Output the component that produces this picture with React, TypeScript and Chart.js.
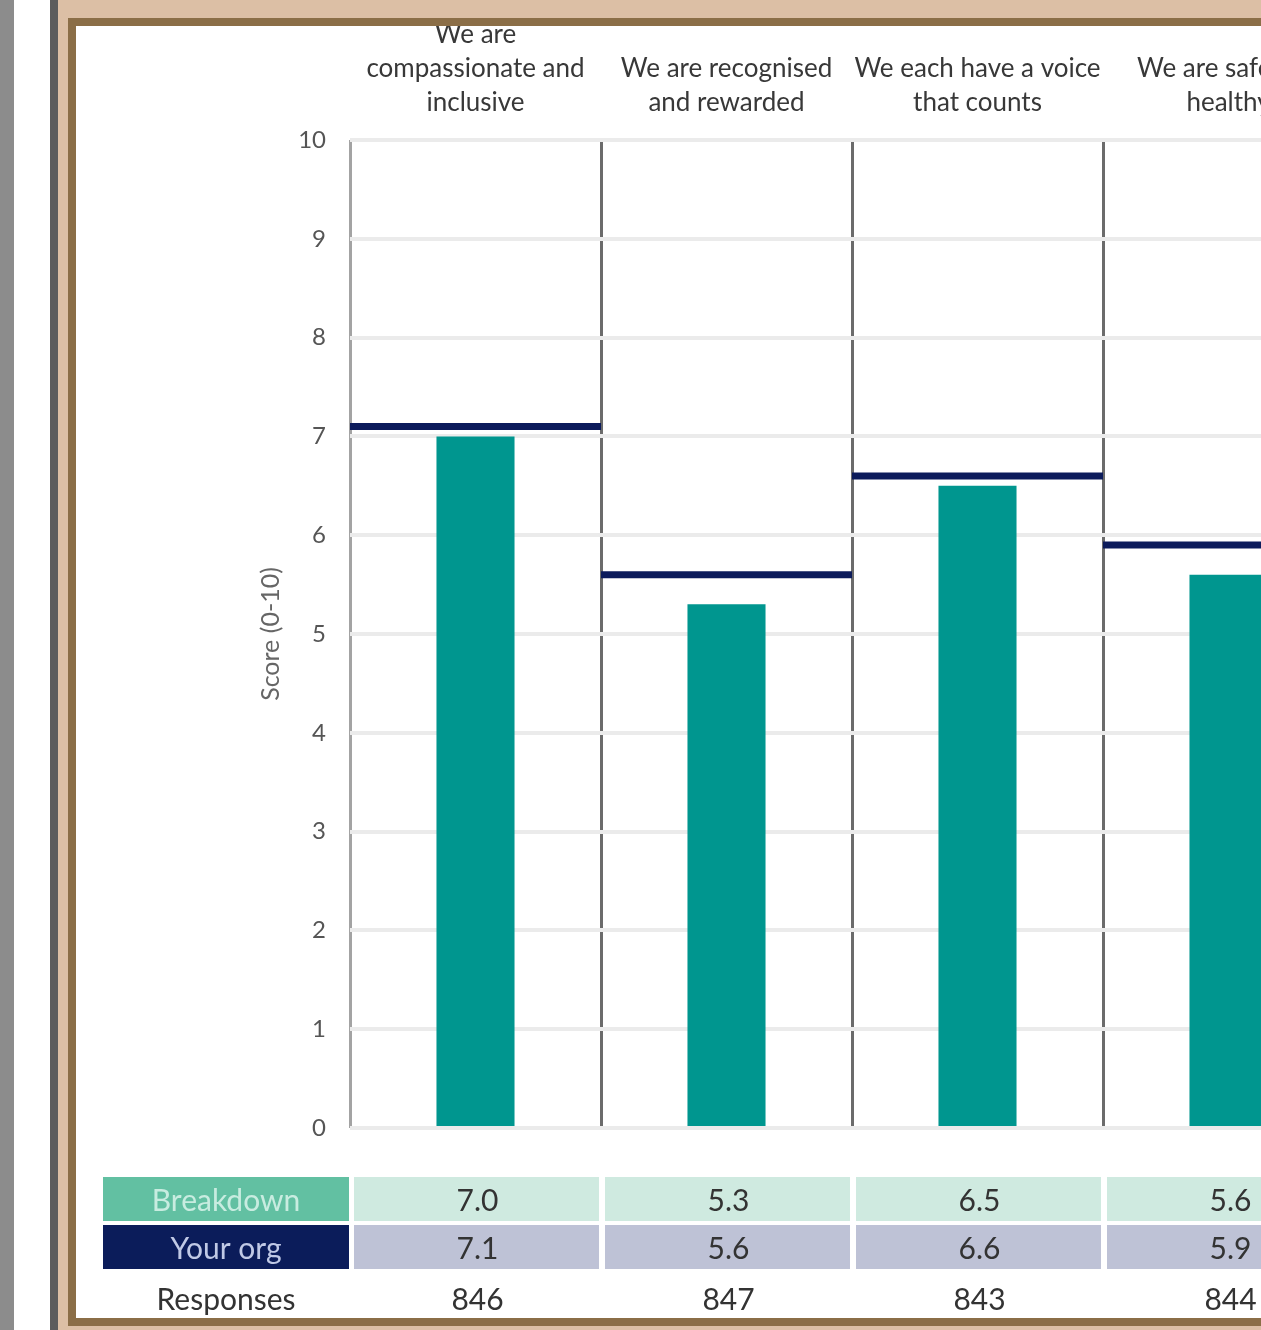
import React, { useEffect, useRef } from "react";
import { Chart, registerables } from "chart.js";

Chart.register(...registerables);

// ---------- data ----------
const categories: string[][] = [
  ["We are", "compassionate and", "inclusive"],
  ["We are recognised", "and rewarded"],
  ["We each have a voice", "that counts"],
  ["We are safe and", "healthy"],
];
const breakdownScores = [7.0, 5.3, 6.5, 5.6];
const yourOrgScores = [7.1, 5.6, 6.6, 5.9];
const responseCounts = [846, 847, 843, 844];
const rowLabels = ["Breakdown", "Your org", "Responses"];
const yAxisTitle = "Score (0-10)";
const yMin = 0;
const yMax = 10;
const yStep = 1;

// ---------- styles ----------
const FONT = "Lato, 'Noto Sans', sans-serif";
const TEAL = "#00968f";
const NAVY = "#0c1b5b";

const tablePlugin = {
  id: "scoreTable",
  afterDraw(chart: any) {
    const ctx = chart.ctx as CanvasRenderingContext2D;
    const xs = chart.scales.x;
    const n = categories.length;
    const cw = (xs.right - xs.left) / n;
    const rows = [
      { y: 1151, h: 44, labelFill: "#62c0a2", labelColor: "#c8ece0", cellFill: "#cfeae0", values: breakdownScores.map((v) => v.toFixed(1)) },
      { y: 1199, h: 44, labelFill: "#0b1c5a", labelColor: "#c0c9e6", cellFill: "#bec2d6", values: yourOrgScores.map((v) => v.toFixed(1)) },
      { y: 1250, h: 44, labelFill: null, labelColor: "#333333", cellFill: null, values: responseCounts.map((v) => String(v)) },
    ];
    ctx.save();
    ctx.textAlign = "center";
    ctx.textBaseline = "middle";
    ctx.font = `30px ${FONT}`;
    rows.forEach((r, ri) => {
      const labelLeft = 27;
      const labelRight = xs.left - 1;
      if (r.labelFill) {
        ctx.fillStyle = r.labelFill;
        ctx.fillRect(labelLeft, r.y, labelRight - labelLeft, r.h);
      }
      ctx.fillStyle = r.labelColor;
      ctx.fillText(rowLabels[ri], (labelLeft + labelRight) / 2, r.y + r.h / 2 + 2);
      for (let i = 0; i < n; i++) {
        const edge = xs.left + i * cw;
        if (r.cellFill) {
          ctx.fillStyle = r.cellFill;
          ctx.fillRect(edge + 4, r.y, cw - 6, r.h);
        }
        ctx.fillStyle = "#333333";
        ctx.fillText(r.values[i], xs.getPixelForValue(i) + 2, r.y + r.h / 2 + 2);
      }
    });
    ctx.restore();
  },
};

export default function App() {
  const ref = useRef<HTMLCanvasElement>(null);

  useEffect(() => {
    const chart = new Chart(ref.current!, {
      type: "bar",
      data: {
        labels: categories,
        datasets: [
          {
            type: "line",
            label: "Your org",
            data: yourOrgScores,
            showLine: false,
            pointStyle: "line",
            pointRadius: 125.5,
            pointBorderWidth: 7,
            pointBorderColor: NAVY,
            pointBackgroundColor: NAVY,
            borderColor: NAVY,
            order: 0,
          } as any,
          {
            type: "bar",
            label: "Breakdown",
            data: breakdownScores,
            backgroundColor: TEAL,
            barPercentage: 0.311,
            categoryPercentage: 1,
            order: 1,
          },
        ],
      },
      options: {
        responsive: false,
        animation: false,
        events: [],
        layout: { autoPadding: false, padding: { left: 182, right: 12, top: 0, bottom: 190 } },
        plugins: {
          legend: { display: false },
          tooltip: { enabled: false },
        },
        scales: {
          x: {
            position: "top",
            z: 0,
            afterFit: (s: any) => {
              s.height = 114;
              s.paddingLeft = 0;
              s.paddingRight = 0;
            },
            grid: {
              offset: true,
              drawTicks: false,
              lineWidth: 3,
              color: (c: any) => (c.index === 0 ? "#a3a3a3" : "#6b6b6b"),
            },
            border: { display: false },
            ticks: {
              autoSkip: false,
              maxRotation: 0,
              minRotation: 0,
              padding: 20,
              color: "#383838",
              font: { family: FONT, size: 26, lineHeight: 34 / 26 },
            },
          },
          y: {
            min: yMin,
            max: yMax,
            z: -1,
            afterFit: (s: any) => {
              s.width = 92;
              s.paddingTop = 0;
              s.paddingBottom = 0;
            },
            grid: { color: "#ebebeb", lineWidth: 4, drawTicks: false },
            border: { display: false },
            ticks: {
              stepSize: yStep,
              padding: 24,
              color: "#555555",
              font: { family: FONT, size: 24 },
            },
            title: {
              display: true,
              text: yAxisTitle,
              color: "#666666",
              padding: 0,
              font: { family: FONT, size: 25, lineHeight: 1.0 },
            },
          },
        },
      },
      plugins: [tablePlugin],
    });
    return () => chart.destroy();
  }, []);

  return (
    <div style={{ position: "absolute", left: 0, top: 0, width: 1261, height: 1330, overflow: "hidden", background: "#dcbfa5" }}>
      <div style={{ position: "absolute", left: 0, top: 0, width: 14, height: 1330, background: "#8c8c8c" }} />
      <div style={{ position: "absolute", left: 14, top: 0, width: 36, height: 1330, background: "#ffffff" }} />
      <div style={{ position: "absolute", left: 50, top: 0, width: 8, height: 1330, background: "#5c5c5c" }} />
      <div
        style={{
          position: "absolute",
          left: 68,
          top: 18,
          width: 1400,
          height: 1308,
          boxSizing: "border-box",
          border: "8px solid #8b6e47",
          background: "#ffffff",
        }}
      />
      <canvas ref={ref} width={1290} height={1292} style={{ position: "absolute", left: 76, top: 26, display: "block" }} />
    </div>
  );
}
